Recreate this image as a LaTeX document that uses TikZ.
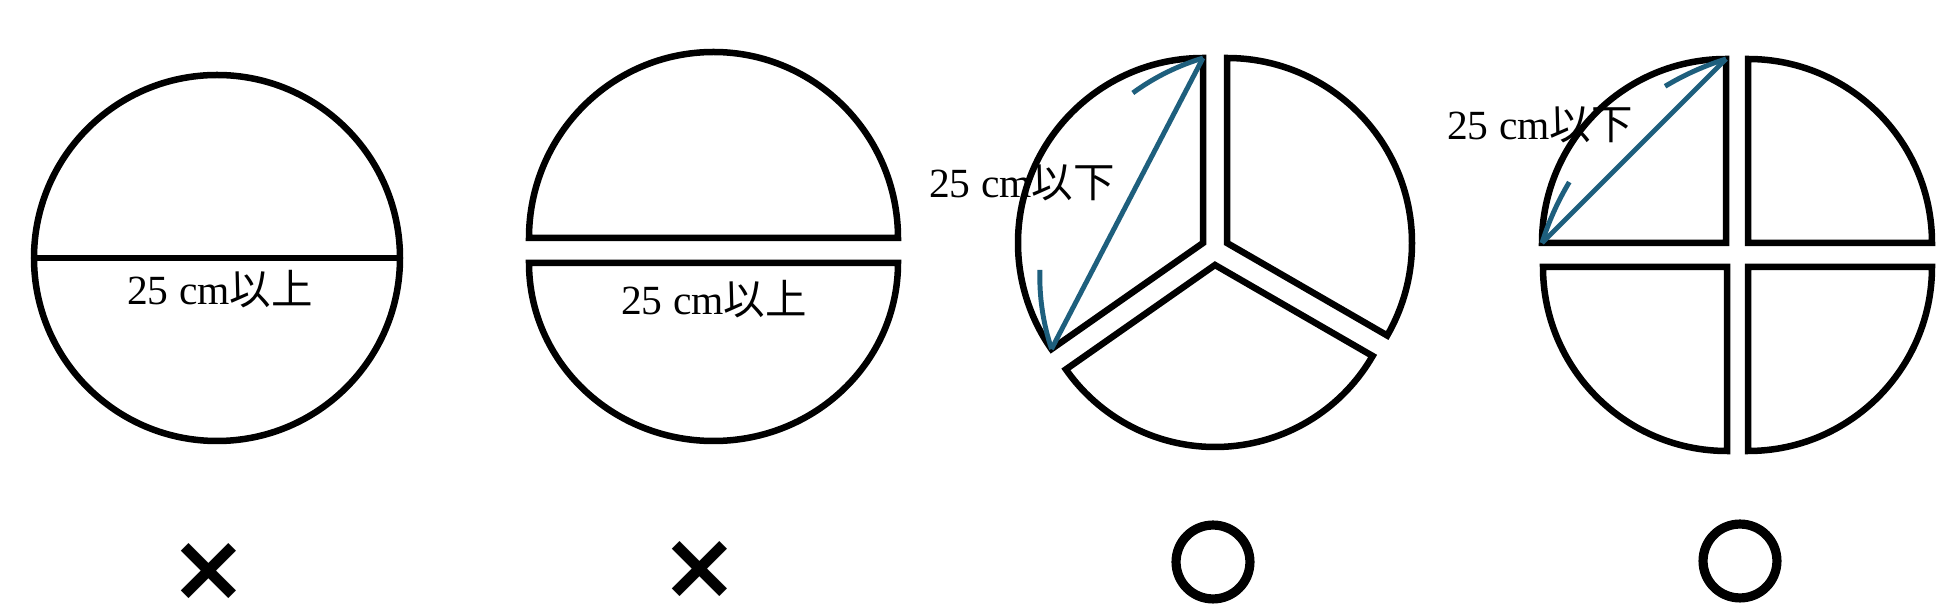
\documentclass[tikz,border=0pt]{standalone}
\usepackage{fontspec}
\usepackage{graphicx}
\usetikzlibrary{calc}
\setmainfont{Liberation Serif}
\newfontfamily\jpfont{Noto Sans CJK JP}
\newfontfamily\markfont{DejaVu Sans}
\newfontfamily\ringfont[FakeBold=7]{Noto Sans CJK JP}
\definecolor{chordblue}{RGB}{30,95,125}
\tikzset{
  piece/.style={draw=black, line width=1.85pt},
  chord/.style={draw=chordblue, line width=1.4pt},
  lbl/.style={inner sep=0pt, anchor=base, font=\fontsize{11.8pt}{14pt}\selectfont},
  markglyph/.style={inner sep=0pt, anchor=center, font=\markfont\bfseries},
  ringglyph/.style={inner sep=0pt, anchor=center, font=\ringfont}
}
\begin{document}
\begin{tikzpicture}[x=0.01cm,y=0.01cm]
\useasboundingbox (0,0) rectangle (1947,612);
\fill[white] (0,0) rectangle (1947,612);

% --- 1: circle cut through its diameter ---
\draw[piece] (217,354) circle[radius=183];
\coordinate (c1l) at (34,354);
\coordinate (c1r) at (400,354);
\draw[piece] (c1l) -- (c1r);
\node[lbl] (t1) at (220,307) {25 cm{\jpfont 以上}};

% --- 2: two halves ---
\draw[piece] (529,374) arc[start angle=180, end angle=0, x radius=184.5, y radius=186] -- cycle;
\draw[piece] (529,349) arc[start angle=180, end angle=360, x radius=184.5, y radius=178] -- cycle;
\node[lbl] (t2) at (714,297) {25 cm{\jpfont 以上}};

% --- 3: three sectors ---
\coordinate (s1) at (1203,369);
\coordinate (s2) at (1227,369);
\coordinate (s3) at (1215,347);
\draw[piece] (s1) -- ++(90:185) arc[start angle=90, end angle=215, radius=185] -- cycle;
\draw[piece] (s2) -- ++(90:185) arc[start angle=90, end angle=-30, radius=185] -- cycle;
\draw[piece] (s3) -- ++(215:182) arc[start angle=215, end angle=330, radius=182] -- cycle;
\coordinate (a3) at ($(s1)+(90:185)$);
\coordinate (b3) at ($(s1)+(215:185)$);
\draw[chord] (a3) -- (b3);
\coordinate (k3) at (1267.8,335.3);
\draw[chord] ([shift={(106.5:228)}]k3) arc[start angle=106.5, end angle=126.3, radius=228];
\draw[chord] ([shift={(178.3:228)}]k3) arc[start angle=178.3, end angle=198.5, radius=228];
\node[lbl] (t3) at (1022,414) {25 cm{\jpfont 以下}};

% --- 4: four quadrants ---
\coordinate (q1) at (1726,369);
\coordinate (q2) at (1748,369);
\coordinate (q3) at (1727,345);
\coordinate (q4) at (1748,345);
\draw[piece] (q1) -- ++(180:184) arc[start angle=180, end angle=90, radius=184] -- cycle;
\draw[piece] (q2) -- ++(90:184) arc[start angle=90, end angle=0, radius=184] -- cycle;
\draw[piece] (q3) -- ++(180:184) arc[start angle=180, end angle=270, radius=184] -- cycle;
\draw[piece] (q4) -- ++(0:184) arc[start angle=0, end angle=-90, radius=184] -- cycle;
\coordinate (a4) at ($(q1)+(90:184)$);
\coordinate (b4) at ($(q1)+(180:184)$);
\draw[chord] (a4) -- (b4);
\coordinate (k4) at (1809.3,285.7);
\draw[chord] ([shift={(107.3:280)}]k4) arc[start angle=107.3, end angle=121, radius=280];
\draw[chord] ([shift={(149:280)}]k4) arc[start angle=149, end angle=162.7, radius=280];
\node[lbl] (t4) at (1540,472) {25 cm{\jpfont 以下}};

% --- verdict marks ---
\node[markglyph] (m1) at (209,40) {\resizebox*{!}{0.57cm}{×}};
\node[markglyph] (m2) at (700,42) {\resizebox*{!}{0.57cm}{×}};
\node[ringglyph] (m3) at (1213,50) {\resizebox*{!}{0.77cm}{○}};
\node[ringglyph] (m4) at (1740,51) {\resizebox*{!}{0.77cm}{○}};
\end{tikzpicture}
\end{document}
